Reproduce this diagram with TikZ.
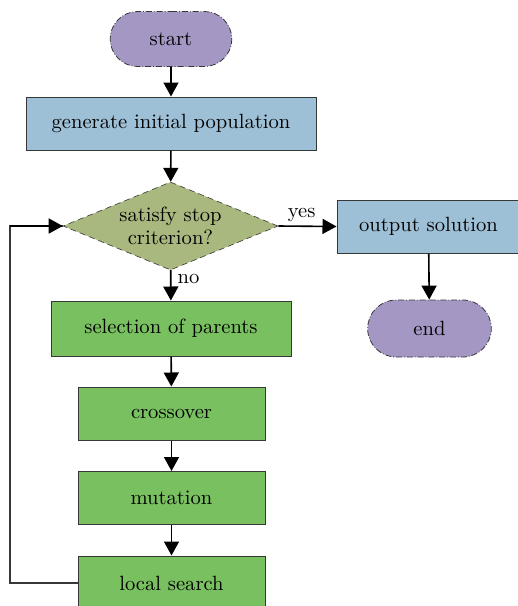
\documentclass[tikz,border=0pt]{standalone}
\usepackage{tikz}
\usetikzlibrary{arrows.meta,shapes.geometric,shapes.misc}
\definecolor{lila}{RGB}{164,151,196}
\definecolor{kek}{RGB}{158,192,214}
\definecolor{oliva}{RGB}{168,184,126}
\definecolor{zold}{RGB}{121,192,97}
\definecolor{keret}{RGB}{55,55,55}
\tikzset{
  kapszula/.style={rounded rectangle,draw=keret,densely dashdotted,line width=0.4pt,fill=lila,minimum height=27.5pt},
  dob/.style={rectangle,draw=keret,line width=0.5pt,minimum height=26.5pt,align=center},
  kekdob/.style={dob,fill=kek},
  zolddob/.style={dob,fill=zold},
  dont/.style={diamond,draw=keret,densely dashed,line width=0.3pt,fill=oliva,inner sep=0pt,
    minimum width=107.5pt,minimum height=44pt,aspect=2.44,align=center},
  nyil/.style={-{Triangle[length=7pt,width=7.5pt]},line width=0.8pt},
  hurok/.style={line width=0.7pt,draw=keret},
}

\begin{document}
\begin{tikzpicture}[x=0.5pt,y=-0.5pt,font=\fontsize{10.3}{11.5}\selectfont]
  \useasboundingbox (0,0) rectangle (518,606);
  % main column
  \node[kapszula,minimum width=67.5pt] (start) at (171,39) {start};
  \node[kekdob,minimum width=145pt] (gen) at (171,123.5) {generate initial population};
  \node[dont] (krit) at (170.5,226) {satisfy stop\\criterion?};
  \node[zolddob,minimum width=120pt,minimum height=27.5pt] (sel) at (171,328.5) {selection of parents};
  \node[zolddob,minimum width=93.5pt] (cross) at (171.5,413.5) {crossover};
  \node[zolddob,minimum width=93.5pt] (mut) at (171.5,498) {mutation};
  \node[zolddob,minimum width=93.5pt,minimum height=27pt] (loc) at (171.5,583) {local search};
  % right column
  \node[kekdob,minimum width=91.5pt] (ki) at (428.5,226.5) {output solution};
  \node[kapszula,minimum width=68.5pt,minimum height=28.5pt] (vege) at (429.5,328.5) {end};
  \coordinate (bal) at (10,583);

  \draw[nyil] (start) -- (gen);
  \draw[nyil] (gen) -- (krit);
  \draw[nyil] (krit) -- (sel) node[pos=0.3,right,inner sep=3pt] {no};
  \draw[nyil] (sel) -- (cross);
  \draw[nyil] (cross) -- (mut);
  \draw[nyil] (mut) -- (loc);
  \draw[nyil] (krit.east) -- (ki.west) node[pos=0.4,above,inner sep=2pt] {yes};
  \draw[nyil] (ki) -- (vege);
  \draw[hurok] (loc.west) -- (bal) |- (krit.west);
  \draw[nyil] (bal |- krit.west) -- (krit.west);
\end{tikzpicture}
\end{document}
